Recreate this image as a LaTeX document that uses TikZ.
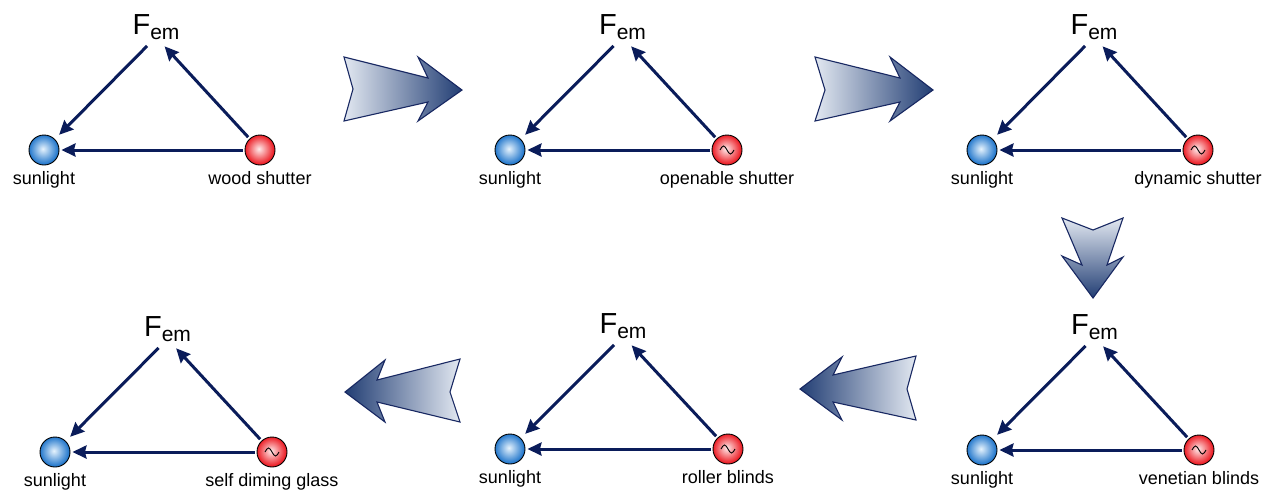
\documentclass[tikz,border=0pt]{standalone}
\usepackage{fontspec}
\setmainfont{Liberation Sans}
\usetikzlibrary{arrows.meta,calc}
\definecolor{navy}{RGB}{10,28,90}
\definecolor{arrlight}{RGB}{226,232,241}
\definecolor{arrdark}{RGB}{34,62,116}
\definecolor{arredge}{RGB}{24,40,98}
\definecolor{bluein}{RGB}{230,243,253}
\definecolor{blueout}{RGB}{36,120,204}
\definecolor{redin}{RGB}{255,235,235}
\definecolor{redout}{RGB}{236,30,38}
\pgfdeclareradialshading{ballB}{\pgfpoint{-2bp}{2bp}}{color(0bp)=(bluein); color(24bp)=(blueout); color(50bp)=(blueout)}
\pgfdeclareradialshading{ballR}{\pgfpoint{-2bp}{2bp}}{color(0bp)=(redin); color(24bp)=(redout); color(50bp)=(redout)}
\tikzset{
  conn/.style={draw=navy, line width=3pt, -{Stealth[length=14pt,width=13pt,inset=1.5pt]}},
  ballblue/.style={circle, minimum size=30pt, inner sep=0pt, draw=black, line width=0.9pt, shade, shading=ballB},
  ballred/.style={circle, minimum size=30pt, inner sep=0pt, draw=black, line width=0.9pt, shade, shading=ballR},
  hub/.style={circle, minimum size=25pt, inner sep=0pt},
  femlabel/.style={anchor=base, inner sep=0pt, font=\fontsize{29}{30}\selectfont},
  caption/.style={anchor=base, inner sep=0pt, font=\fontsize{18}{20}\selectfont},
  bigarrow/.style={draw=arredge, line width=1.1pt, line join=miter},
  wave/.style={draw=black, line width=0.9pt}
}
\newcommand{\drawpanel}[6]{%
  \node[ballblue] (b#1) at (#2,#3) {};
  \node[ballred] (r#1) at (#4,#3) {};
  \pgfmathsetmacro\midx{(#2+#4)/2+4}
  \node[hub] (h#1) at (\midx,#3-113) {};
  \node[femlabel] (f#1) at (\midx,#3-116) {F{\fontsize{21}{21}\selectfont\raisebox{-5pt}{em}}};
  \node[caption] (s#1) at (#2,#3+34) {sunlight};
  \node[caption] (c#1) at (#4,#3+34) {#5};
  \draw[conn, shorten >=6pt] (h#1) -- (b#1);
  \draw[conn, shorten <=2pt] (r#1) -- (h#1);
  \draw[conn, shorten <=2pt, shorten >=2pt] (r#1) -- (b#1);
  \ifnum#6=1
    \draw[wave] (r#1.center) ++(-7,0) sin ++(3.5,-4) cos ++(3.5,4) sin ++(3.5,4) cos ++(3.5,-4);
  \fi
}
\begin{document}
\begin{tikzpicture}[x=1pt, y=-1pt]
  \useasboundingbox[fill=white] (0,0) rectangle (1279,491);
  \drawpanel{1}{44}{150}{260}{wood shutter}{0}
  \drawpanel{2}{510}{150}{727}{openable shutter}{1}
  \drawpanel{3}{982}{150}{1198}{dynamic shutter}{1}
  \drawpanel{4}{982}{450}{1199}{venetian blinds}{1}
  \drawpanel{5}{510}{449}{728}{roller blinds}{1}
  \drawpanel{6}{55}{452}{272}{self diming glass}{1}
  % big process arrows
  \path[bigarrow, left color=arrlight, right color=arrdark]
    (344,57) -- (428,78) -- (418,57) -- (462,90) -- (418,121) -- (428,102) -- (344,121) -- (353,89) -- cycle;
  \path[bigarrow, left color=arrlight, right color=arrdark]
    (815,57) -- (900,78) -- (890,57) -- (933,90) -- (890,121) -- (900,102) -- (815,121) -- (825,90) -- cycle;
  \path[bigarrow, top color=arrlight, bottom color=arrdark]
    (1062,218) -- (1093,230) -- (1123,218) -- (1107,265) -- (1123,257) -- (1093,298) -- (1062,256) -- (1082,265) -- cycle;
  \path[bigarrow, left color=arrdark, right color=arrlight]
    (800,389) -- (842,357) -- (833,375) -- (916,356) -- (907,389) -- (916,420) -- (833,402) -- (842,420) -- cycle;
  \path[bigarrow, left color=arrdark, right color=arrlight]
    (345,392) -- (385,360) -- (377,380) -- (460,359) -- (450,392) -- (460,422) -- (377,402) -- (385,422) -- cycle;
\end{tikzpicture}
\end{document}
